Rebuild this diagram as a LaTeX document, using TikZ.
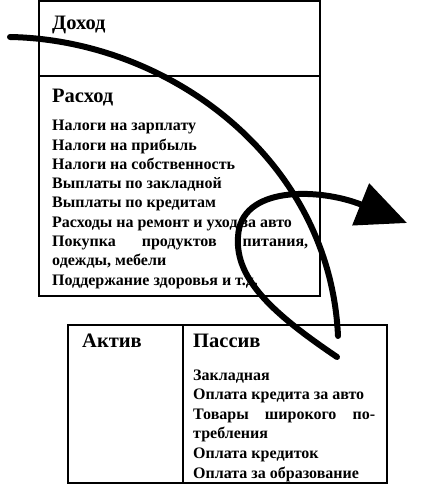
\documentclass[tikz,border=0pt]{standalone}
\usepackage{fontspec}
\setmainfont{Liberation Serif}
\usetikzlibrary{arrows.meta}

\begin{document}
\begin{tikzpicture}[x=1pt, y=-1pt,
    box/.style={draw, line width=2.4pt, anchor=north west, inner sep=0pt, outer sep=0pt},
    head/.style={anchor=base west, inner sep=0pt, font=\bfseries\fontsize{20.5}{22}\selectfont},
    item/.style={anchor=base west, inner sep=0pt, font=\bfseries\fontsize{16}{19}\selectfont},
    flow/.style={line width=6pt, line cap=round}]
  \useasboundingbox (0,0) rectangle (424,502);
  % upper table
  \node[box, minimum width=281pt, minimum height=75pt] (dohod) at (39,1) {};
  \node[box, minimum width=281pt, minimum height=220pt] (rashod) at (dohod.south west) {};
  \node[head] (tdohod) at (52,30) {Доход};
  \node[head] (trashod) at (52,103) {Расход};
  \foreach \txt [count=\i] in {{Налоги на зарплату}, {Налоги на прибыль},
      {Налоги на собственность}, {Выплаты по закладной}, {Выплаты по кредитам},
      {Расходы на ремонт и уход за авто},
      {\makebox[256pt][s]{Покупка продуктов питания,}},
      {одежды, мебели}, {Поддержание здоровья и т.д.}}
    \node[item] (r\i) at (52,{131+19.25*(\i-1)}) {\txt};
  % lower table
  \node[box, minimum width=115pt, minimum height=158pt] (aktiv) at (68,325) {};
  \node[box, minimum width=204pt, minimum height=158pt] (passiv) at (aktiv.north east) {};
  \node[head] (taktiv) at (82,347) {Актив};
  \node[head] (tpassiv) at (193,347) {Пассив};
  \foreach \txt [count=\i] in {{Закладная}, {Оплата кредита за авто},
      {\makebox[182pt][s]{Товары широкого по-}}, {требления},
      {Оплата кредиток}, {Оплата за образование}}
    \node[item] (p\i) at (193,{380+19.6*(\i-1)}) {\txt};
  % flows
  \coordinate (s1) at (10,37);
  \coordinate (e1) at (338,336);
  \coordinate (s2) at (337,357);
  \coordinate (m2) at (238,237);
  \coordinate (e2) at (407,223);
  \draw[flow] (s1) .. controls (170,40) and (330,160) .. (e1);
  \draw[flow, -{Triangle[length=50pt,width=44pt]}] (s2) .. controls (275,315) and (235,280) .. (m2)
    .. controls (240,185) and (320,188) .. (e2);
\end{tikzpicture}
\end{document}
